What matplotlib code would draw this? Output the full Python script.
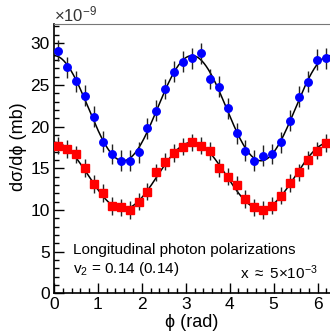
import numpy as np
import matplotlib
matplotlib.use('Agg')
import matplotlib.pyplot as plt
from matplotlib.ticker import MultipleLocator

plt.rcParams['font.family'] = ['Liberation Sans', 'DejaVu Sans']
plt.rcParams['mathtext.fontset'] = 'custom'
plt.rcParams['mathtext.rm'] = 'Liberation Sans'
plt.rcParams['mathtext.it'] = 'Liberation Sans:italic'

# 31 phi bins over [0, 2pi]
n_bins = 31
blue_vals = [29.1, 27.1, 25.45, 23.7, 21.2, 18.2, 16.7, 15.9, 15.9, 16.9,
             19.8, 21.9, 24.5, 26.6, 27.8, 28.2, 28.8, 25.7, 24.8, 22.2,
             19.2, 17.1, 15.9, 16.5, 16.7, 18.1, 20.7, 23.6, 25.4, 28.0, 28.2]
red_vals = [17.7, 17.3, 16.65, 15.0, 13.1, 12.0, 10.45, 10.3, 9.96, 11.0,
            12.2, 14.5, 15.8, 16.8, 17.6, 18.1, 17.7, 17.05, 15.0, 14.0,
            13.0, 11.3, 10.3, 10.0, 10.5, 11.7, 13.2, 14.5, 16.0, 17.1, 18.0]
blue_err = 1.25
red_err = 1.05

# fit parameters: A * (1 + 2 v2 cos 2phi)
blue_norm = 22.2
red_norm = 14.1
v2 = 0.142

width = 2*np.pi/n_bins
phi = (np.arange(n_bins) + 0.5)*width

fig = plt.figure(figsize=(3.3, 3.34), dpi=100)
ax = fig.add_axes([0.1636, 0.1219, 0.8364, 0.8063])

curve_x = np.linspace(0, 2*np.pi, 400)
ax.plot(curve_x, blue_norm*(1 + 2*v2*np.cos(2*curve_x)), color='k', lw=1.1, zorder=2)
ax.plot(curve_x, red_norm*(1 + 2*v2*np.cos(2*curve_x)), color='k', lw=1.1, zorder=2)

ax.errorbar(phi, blue_vals, yerr=blue_err, fmt='o', color='#0000ff', ms=5.4,
            ecolor='#222222', elinewidth=1, capsize=0, zorder=3)
ax.errorbar(phi, red_vals, yerr=red_err, fmt='s', color='#ff0000', ms=5.2,
            ecolor='#222222', elinewidth=1, capsize=0, zorder=3)

ax.set_xlim(0, 2*np.pi)
ax.set_ylim(0, 32.3)

ax.xaxis.set_major_locator(MultipleLocator(1))
ax.xaxis.set_minor_locator(MultipleLocator(0.2))
ax.yaxis.set_major_locator(MultipleLocator(5))
ax.yaxis.set_minor_locator(MultipleLocator(1))
ax.tick_params(which='both', direction='in', top=False, right=False, labelsize=12.5, pad=3)
ax.tick_params(which='major', length=7, width=1)
ax.tick_params(which='minor', length=3.5, width=1)

ax.spines['right'].set_visible(False)
ax.spines['top'].set_color('#777777')
ax.spines['left'].set_linewidth(1.2)
ax.spines['bottom'].set_linewidth(1.2)

fig.text(0.58, 0.033, 'ϕ (rad)', ha='center', va='center', fontsize=13)
fig.text(0.055, 0.56, 'dσ/dϕ (mb)', ha='center', va='center', rotation=90, fontsize=13)
fig.text(0.163, 0.958, r'$\times$10$^{-9}$', ha='left', va='center', fontsize=12, color='#333333')

ax.text(0.07, 0.16, 'Longitudinal photon polarizations', transform=ax.transAxes,
        fontsize=11, va='center', ha='left')
ax.text(0.07, 0.09, r'v$_2$ = 0.14 (0.14)', transform=ax.transAxes,
        fontsize=11, va='center', ha='left')
ax.text(0.955, 0.075, r'x $\approx$ 5$\times$10$^{-3}$', transform=ax.transAxes,
        fontsize=11, va='center', ha='right')

fig.savefig('out.png', dpi=100)
